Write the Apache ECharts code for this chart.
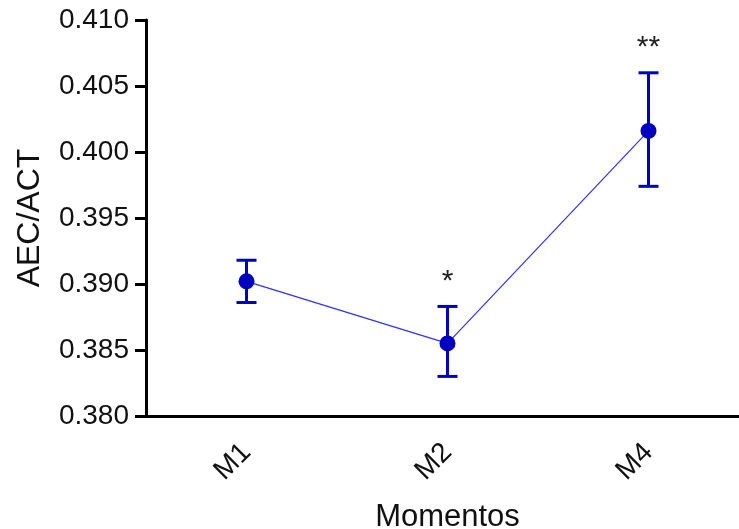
<!DOCTYPE html>
<html>
<head>
<meta charset="utf-8">
<script src="https://cdn.jsdelivr.net/npm/echarts@6/dist/echarts.min.js"></script>
<style>
  html, body { margin: 0; padding: 0; background: #fff; }
  #chart { width: 739px; height: 529px; }
</style>
</head>
<body>
<div id="chart"></div>
<script>
// values
var categories = ['M1', 'M2', 'M4'];
var means = [0.3902, 0.3855, 0.4016];
var errLow = [0.3886, 0.3830, 0.3974];
var errHigh = [0.3918, 0.3883, 0.4060];
var stars = ['', '*', '**'];
var yTicks = { min: 0.380, max: 0.410, step: 0.005 };

var errData = categories.map(function (c, i) {
  return [i, errLow[i], errHigh[i], stars[i]];
});

var dom = echarts.init(document.getElementById('chart'));
var font = 'Liberation Sans, Arial, sans-serif';

var option = {
  animation: false,
  grid: { left: 146, right: -10, top: 20, bottom: 113, containLabel: false, outerBoundsMode: 'none' },
  xAxis: {
    type: 'category',
    data: categories,
    name: 'Momentos',
    nameLocation: 'middle',
    nameGap: 86,
    nameTextStyle: { fontFamily: font, fontSize: 31, color: '#111' },
    axisLine: { lineStyle: { color: '#000', width: 3 } },
    axisTick: { alignWithLabel: true, length: 10, lineStyle: { color: '#000', width: 3 } },
    axisLabel: { rotate: 45, fontFamily: font, fontSize: 28, color: '#111', margin: 32 },
    splitLine: { show: false }
  },
  yAxis: {
    type: 'value',
    min: yTicks.min,
    max: yTicks.max,
    interval: yTicks.step,
    name: 'AEC/ACT',
    nameLocation: 'middle',
    nameGap: 100,
    nameTextStyle: { fontFamily: font, fontSize: 32, color: '#111' },
    axisLine: { show: true, lineStyle: { color: '#000', width: 3 } },
    axisTick: { show: true, length: 11, lineStyle: { color: '#000', width: 3 } },
    axisLabel: {
      fontFamily: font, fontSize: 28, color: '#111', margin: 17,
      formatter: function (v) { return v.toFixed(3); }
    },
    splitLine: { show: false }
  },
  series: [
    {
      type: 'line',
      data: means,
      lineStyle: { color: '#3030ff', width: 1.2 },
      itemStyle: { color: '#0000c0' },
      symbol: 'circle',
      symbolSize: 16,
      z: 3
    },
    {
      type: 'custom',
      data: errData,
      z: 2,
      renderItem: function (params, api) {
        var x = api.value(0);
        var lo = api.coord([x, api.value(1)]);
        var hi = api.coord([x, api.value(2)]);
        var half = 10;
        var st = { stroke: '#0000c0', lineWidth: 3 };
        var kids = [
          { type: 'line', shape: { x1: lo[0], y1: lo[1], x2: hi[0], y2: hi[1] }, style: st },
          { type: 'line', shape: { x1: hi[0] - half, y1: hi[1], x2: hi[0] + half, y2: hi[1] }, style: st },
          { type: 'line', shape: { x1: lo[0] - half, y1: lo[1], x2: lo[0] + half, y2: lo[1] }, style: st }
        ];
        var s = errData[params.dataIndex][3];
        if (s) {
          kids.push({
            type: 'text',
            style: {
              text: s, x: hi[0], y: hi[1] - 40,
              align: 'center', verticalAlign: 'top',
              fontFamily: font, fontSize: 30, fill: '#222'
            }
          });
        }
        return { type: 'group', children: kids };
      }
    }
  ]
};

dom.setOption(option);
</script>
</body>
</html>
